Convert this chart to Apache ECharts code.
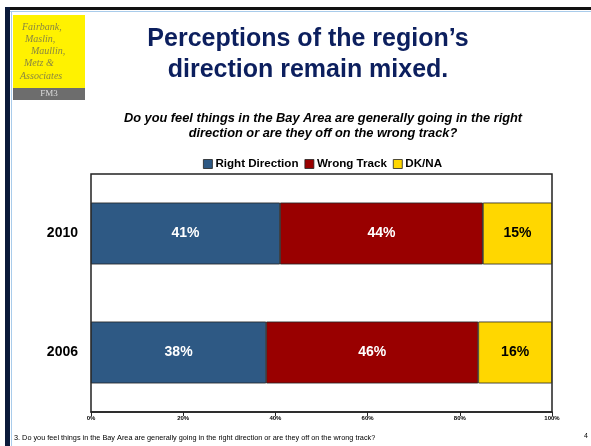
<!DOCTYPE html>
<html><head><meta charset="utf-8">
<script src="https://cdn.jsdelivr.net/npm/echarts@6/dist/echarts.min.js"></script>
<style>html,body{margin:0;padding:0;background:#fff}#c{width:591px;height:446px}</style>
</head><body><div id="c"></div>
<script>
var categories = ['2006', '2010'];
var seriesNames = ['Right Direction', 'Wrong Track', 'DK/NA'];
var rightDirection = [38, 41];
var wrongTrack = [46, 44];
var dkna = [16, 15];
var tickLabels = ['0%', '20%', '40%', '60%', '80%', '100%'];

var colors = ['#2E5984', '#990000', '#FFD700'];
var labelColors = ['#fff', '#fff', '#000'];
var values = [rightDirection, wrongTrack, dkna];

var chart = echarts.init(document.getElementById('c'));
var series = seriesNames.map(function (n, i) {
  return {
    name: n, type: 'bar', stack: 'a', data: values[i], barWidth: '52%',
    itemStyle: { color: colors[i], borderColor: '#222', borderWidth: 0.8 },
    label: { show: true, position: 'inside', formatter: '{c}%', color: labelColors[i],
      fontFamily: 'Liberation Sans, Arial', fontWeight: 'bold', fontSize: 14 }
  };
});
var logoFont = 'italic 10px Liberation Serif';
var logoCol = '#8A8740';
chart.setOption({
  animation: false,
  textStyle: { fontFamily: 'Liberation Sans, Arial' },
  title: [
    { text: 'Perceptions of the region\u2019s\ndirection remain mixed.', left: 303, top: 19, textAlign: 'center',
      textStyle: { color: '#0C1F5E', fontSize: 25, fontWeight: 'bold', lineHeight: 31, fontFamily: 'Liberation Sans, Arial' } },
    { text: 'Do you feel things in the Bay Area are generally going in the right\ndirection or are they off on the wrong track?', left: 318, top: 106, textAlign: 'center',
      textStyle: { color: '#000', fontSize: 12.8, fontWeight: 'bold', fontStyle: 'italic', lineHeight: 15, fontFamily: 'Liberation Sans, Arial' } }
  ],
  legend: { top: 153, left: 198, itemWidth: 9, itemHeight: 9, itemGap: 6,
    icon: 'rect', data: seriesNames,
    itemStyle: { borderColor: '#222', borderWidth: 0.8 },
    textStyle: { fontSize: 11.6, fontWeight: 'bold', color: '#000', padding: [0, 0, 0, -2] } },
  grid: { left: 91, right: 39, top: 174, bottom: 34, containLabel: false,
    show: true, borderColor: '#222', borderWidth: 1.5 },
  xAxis: { type: 'value', min: 0, max: 100, interval: 20,
    axisLine: { show: true, lineStyle: { color: '#222', width: 1.5 } },
    axisTick: { show: true, length: 4, inside: false, lineStyle: { color: '#222' } },
    splitLine: { show: false },
    axisLabel: { formatter: function (v) { return tickLabels[v / 20]; }, fontSize: 6, fontWeight: 'bold', color: '#000', margin: 3 } },
  yAxis: { type: 'category', data: categories,
    axisLine: { show: false }, axisTick: { show: false },
    axisLabel: { fontSize: 14, fontWeight: 'bold', color: '#000', margin: 13 } },
  series: series,
  graphic: [
    { type: 'rect', shape: { x: 5, y: 7, width: 586, height: 3 }, style: { fill: '#111' } },
    { type: 'rect', shape: { x: 5, y: 7, width: 5, height: 439 }, style: { fill: '#0B1A3A' } },
    { type: 'rect', shape: { x: 10, y: 11, width: 581, height: 1 }, style: { fill: '#A9CCEB' } },
    { type: 'rect', shape: { x: 11, y: 11, width: 1, height: 435 }, style: { fill: '#A9CCEB' } },
    { type: 'rect', shape: { x: 13, y: 15, width: 72, height: 73 }, style: { fill: '#FFF200' } },
    { type: 'rect', shape: { x: 13, y: 88, width: 72, height: 12 }, style: { fill: '#6D6D6D' } },
    { type: 'text', x: 49, y: 89, style: { text: 'FM3', fill: '#ddd', font: '9px Liberation Serif', align: 'center' } },
    { type: 'text', x: 22, y: 22, style: { text: 'Fairbank,', fill: logoCol, font: logoFont } },
    { type: 'text', x: 25, y: 34, style: { text: 'Maslin,', fill: logoCol, font: logoFont } },
    { type: 'text', x: 31, y: 46, style: { text: 'Maullin,', fill: logoCol, font: logoFont } },
    { type: 'text', x: 24, y: 58, style: { text: 'Metz &', fill: logoCol, font: logoFont } },
    { type: 'text', x: 20, y: 71, style: { text: 'Associates', fill: logoCol, font: logoFont } },
    { type: 'text', x: 14, y: 434, style: { text: '3. Do you feel things in the Bay Area are generally going in the right direction or are they off on the wrong track?', fill: '#000', font: '7.3px Liberation Sans' } },
    { type: 'text', x: 584, y: 433, style: { text: '4', fill: '#000', font: '7px Liberation Sans' } }
  ]
});
</script></body></html>
